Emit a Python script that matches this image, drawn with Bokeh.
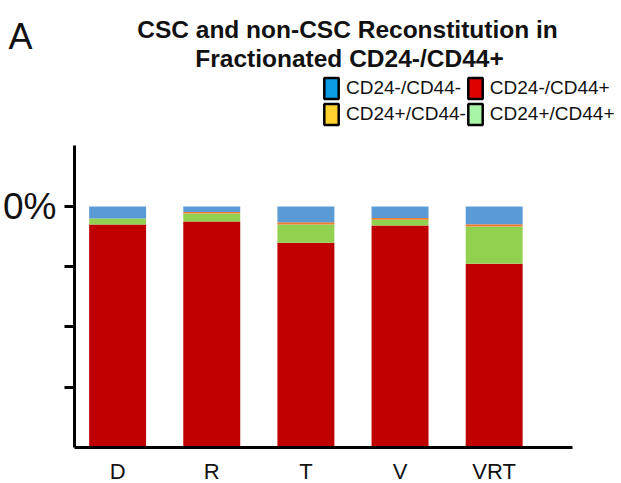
import numpy as np
from bokeh.plotting import figure
from bokeh.layouts import column, row
from bokeh.models import ColumnDataSource, Range1d, FixedTicker, Label, Legend, LegendItem
from bokeh.embed import file_html
from bokeh.resources import INLINE

# ---- data (percent of cells) ----
categories = ["D", "R", "T", "V", "VRT"]
cd24neg_cd44pos = [92.5, 93.75, 85.0, 92.1, 76.25]   # red, bottom
cd24pos_cd44pos = [2.5, 3.3, 7.5, 2.4, 15.4]          # green
cd24pos_cd44neg = [0.0, 0.7, 1.0, 0.7, 1.0]           # orange
cd24neg_cd44neg = [5.0, 2.25, 6.5, 4.8, 7.35]         # blue, top

y_ticks = [25, 50, 75, 100]
y_tick_labels = {25: "", 50: "", 75: "", 100: "0%"}

title_line1 = "CSC and non-CSC Reconstitution in"
title_line2 = "Fractionated CD24-/CD44+"
panel_letter = "A"

# legend entries (row-wise) and their swatch colours as printed in the figure
legend_labels = ["CD24-/CD44-", "CD24-/CD44+", "CD24+/CD44-", "CD24+/CD44+"]
legend_colors = ["#0A9BE3", "#E00000", "#FFD22E", "#A8F5A8"]
legend_series = ["cd24neg_cd44neg", "cd24neg_cd44pos", "cd24pos_cd44neg", "cd24pos_cd44pos"]

stackers = ["cd24neg_cd44pos", "cd24pos_cd44pos", "cd24pos_cd44neg", "cd24neg_cd44neg"]
bar_colors = ["#C00000", "#92D050", "#ED7D31", "#5B9BD5"]

FONT = "Liberation Sans"
TXT = "#111111"

x_idx = np.arange(len(categories))
source = ColumnDataSource(dict(
    x=x_idx,
    cat=categories,
    cd24neg_cd44pos=cd24neg_cd44pos,
    cd24pos_cd44pos=cd24pos_cd44pos,
    cd24pos_cd44neg=cd24pos_cd44neg,
    cd24neg_cd44neg=cd24neg_cd44neg,
))

# ---------------- header: panel letter, title, legend ----------------
HW, HH = 620, 130
header = figure(width=HW, height=HH, x_range=Range1d(0, HW), y_range=Range1d(0, HH),
                x_axis_type=None, y_axis_type=None, min_border=0, title=None,
                output_backend="svg", toolbar_location=None)
header.outline_line_color = None
header.xgrid.visible = False
header.ygrid.visible = False

header.add_layout(Label(x=8, y=94, text=panel_letter, text_font=FONT,
                        text_font_size="36px", text_color=TXT,
                        text_baseline="alphabetic"))
header.add_layout(Label(x=347, y=101, text=title_line1, text_font=FONT,
                        text_font_size="24.5px", text_font_style="bold", text_color=TXT,
                        text_align="center", text_baseline="alphabetic"))
header.add_layout(Label(x=349, y=72, text=title_line2, text_font=FONT,
                        text_font_size="24.5px", text_font_style="bold", text_color=TXT,
                        text_align="center", text_baseline="alphabetic"))

items = []
for lab, col, ser in zip(legend_labels, legend_colors, legend_series):
    r = header.vbar(x="x", top=ser, width=0.5, source=source, fill_color=col,
                    line_color="black", line_width=2.5, visible=False)
    items.append(LegendItem(label=lab, renderers=[r]))
legend = Legend(items=items, orientation="horizontal", ncols=2,
                location=(322, 3), padding=0, margin=0, spacing=0,
                glyph_width=18, glyph_height=26, label_height=20,
                label_standoff=6, border_line_color=None, background_fill_alpha=0,
                label_text_font=FONT, label_text_font_size="19px",
                label_text_color=TXT)
header.add_layout(legend, "center")

# ---------------- main stacked bar chart ----------------
p = figure(
    frame_width=498, frame_height=302,
    x_range=Range1d(-0.458, 4.832), y_range=Range1d(0, 125.3),
    output_backend="svg", toolbar_location=None,
    min_border_top=15, min_border_right=45, min_border_bottom=0, min_border_left=72,
)
p.outline_line_color = None
p.xgrid.visible = False
p.ygrid.visible = False

p.vbar_stack(stackers, x="x", width=0.605, fill_color=bar_colors,
             line_color=None, source=source)

p.xaxis.ticker = FixedTicker(ticks=list(x_idx))
p.xaxis.major_label_overrides = {int(i): c for i, c in zip(x_idx, categories)}
p.xaxis.major_tick_line_color = None
p.xaxis.minor_tick_line_color = None
p.xaxis.axis_line_width = 3
p.xaxis.axis_line_color = "black"
p.xaxis.major_label_text_font = FONT
p.xaxis.major_label_text_font_size = "22px"
p.xaxis.major_label_text_color = TXT
p.xaxis.major_label_standoff = 5

p.yaxis.ticker = FixedTicker(ticks=y_ticks)
p.yaxis.major_label_overrides = y_tick_labels
p.yaxis.axis_line_width = 3
p.yaxis.axis_line_color = "black"
p.yaxis.major_tick_line_width = 3
p.yaxis.major_tick_out = 10
p.yaxis.major_tick_in = 0
p.yaxis.minor_tick_line_color = None
p.yaxis.major_label_text_font = FONT
p.yaxis.major_label_text_font_size = "37px"
p.yaxis.major_label_text_color = TXT
p.yaxis.major_label_standoff = 8

layout = column(row(header), row(p), spacing=0)
open("out.html", "w").write(file_html(layout, INLINE))
